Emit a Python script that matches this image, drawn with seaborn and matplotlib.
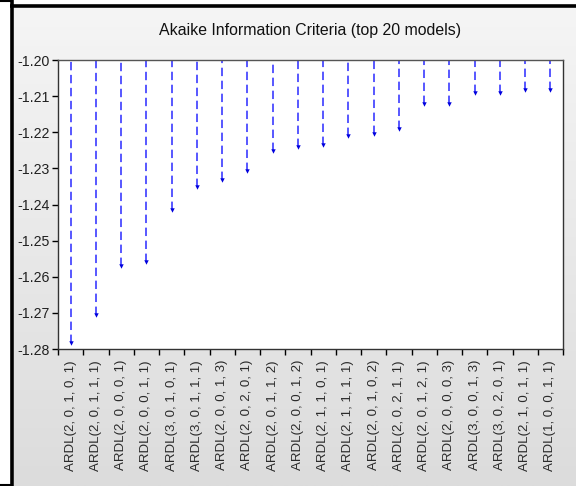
import matplotlib
matplotlib.use("Agg")
import matplotlib.pyplot as plt
from matplotlib.lines import Line2D
from matplotlib.ticker import FixedLocator
import numpy as np
import pandas as pd
import seaborn as sns

# data
models = ["ARDL(2, 0, 1, 0, 1)", "ARDL(2, 0, 1, 1, 1)", "ARDL(2, 0, 0, 0, 1)",
          "ARDL(2, 0, 0, 1, 1)", "ARDL(3, 0, 1, 0, 1)", "ARDL(3, 0, 1, 1, 1)",
          "ARDL(2, 0, 0, 1, 3)", "ARDL(2, 0, 2, 0, 1)", "ARDL(2, 0, 1, 1, 2)",
          "ARDL(2, 0, 0, 1, 2)", "ARDL(2, 1, 1, 0, 1)", "ARDL(2, 1, 1, 1, 1)",
          "ARDL(2, 0, 1, 0, 2)", "ARDL(2, 0, 2, 1, 1)", "ARDL(2, 0, 1, 2, 1)",
          "ARDL(2, 0, 0, 0, 3)", "ARDL(3, 0, 0, 1, 3)", "ARDL(3, 0, 2, 0, 1)",
          "ARDL(2, 1, 0, 1, 1)", "ARDL(1, 0, 0, 1, 1)"]
aic = [-1.2783, -1.2706, -1.2569, -1.2560, -1.2414, -1.2352, -1.2332,
       -1.2306, -1.2253, -1.2242, -1.2235, -1.2210, -1.2206, -1.2192,
       -1.2121, -1.2121, -1.2090, -1.2090, -1.2084, -1.2083]
yticks = [-1.20, -1.21, -1.22, -1.23, -1.24, -1.25, -1.26, -1.27, -1.28]
top_value = -1.20

df = pd.DataFrame({"model": models, "aic": aic})

sns.set_style("ticks")
plt.rcParams["font.family"] = ["Liberation Sans", "DejaVu Sans"]

W, H = 576, 486
fig = plt.figure(figsize=(W / 100, H / 100), dpi=100, facecolor="white")

# gray gradient panel behind the chart
bg = fig.add_axes([14 / W, 0, 1 - 14 / W, 1 - 8 / H], zorder=-10)
grad = np.linspace(0, 1, 256).reshape(-1, 1)
bg.imshow(grad, aspect="auto", cmap=matplotlib.colors.LinearSegmentedColormap.from_list(
    "g", ["#f5f5f5", "#dcdcdc"]), extent=[0, 1, 0, 1], origin="upper")
bg.set_axis_off()

# window border lines
def hline(y, x0, x1, lw):
    fig.add_artist(Line2D([x0 / W, x1 / W], [1 - y / H, 1 - y / H], color="black",
                          lw=lw, transform=fig.transFigure, solid_capstyle="butt"))

def vline(x, y0, y1, lw):
    fig.add_artist(Line2D([x / W, x / W], [1 - y0 / H, 1 - y1 / H], color="black",
                          lw=lw, transform=fig.transFigure, solid_capstyle="butt"))

hline(1, 0, 13, 1.5)
hline(6, 10, W, 2.6)
vline(11.5, 0, H, 2.6)
hline(484.5, 0, 11, 1.5)

ax = fig.add_axes([58 / W, 1 - 349 / H, 505 / W, 289 / H])
ax.set_facecolor("white")

ax.vlines(np.arange(len(models)), df["aic"], top_value, colors="#2a2aff",
          linewidth=1.1, linestyles=(0, (5.5, 3.0)))
sns.stripplot(data=df, x="model", y="aic", jitter=False, marker="v", size=3.2,
              color="#0000dd", linewidth=0, ax=ax, zorder=3)

ax.set_xlim(-0.5, len(models) - 0.5)
ax.set_ylim(-1.28, -1.20)
ax.set_yticks(yticks)
ax.set_yticklabels([f"{v:.2f}" for v in yticks], fontsize=10.2, color="#202020")
ax.tick_params(axis="y", direction="out", length=4.5, width=1, pad=1.5, color="black")
ax.set_xticks(range(len(models)))
ax.set_xticklabels(models, rotation=90, fontsize=9.5, color="#2a2a2a")
ax.tick_params(axis="x", which="major", length=0, pad=8)
ax.xaxis.set_minor_locator(FixedLocator(np.arange(-0.5, len(models), 1.0)))
ax.tick_params(axis="x", which="minor", direction="out", length=4.5, width=1, color="black")
ax.set_xlabel("")
ax.set_ylabel("")
for side in ["left", "bottom", "right", "top"]:
    ax.spines[side].set_visible(True)
    ax.spines[side].set_linewidth(1)
    ax.spines[side].set_color("#333333")
ax.spines["top"].set_color("#555555")

fig.text(310 / W, 1 - 30 / H, "Akaike Information Criteria (top 20 models)",
         ha="center", va="center", fontsize=11.4, color="#111111")

fig.savefig("out.png", dpi=100, facecolor="white")
